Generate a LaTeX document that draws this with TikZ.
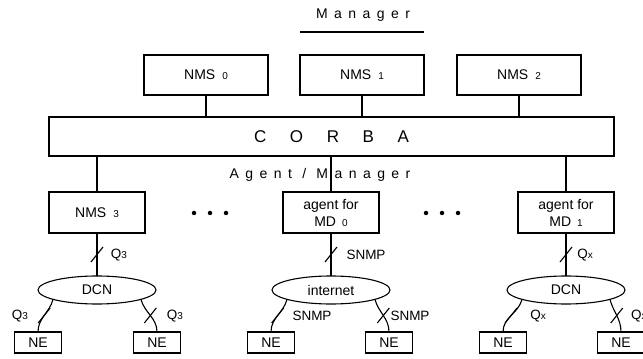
\documentclass[tikz,border=0pt]{standalone}
\usepackage{fontspec}
\setmainfont{Liberation Sans}
\usetikzlibrary{shapes.geometric,calc}

% small digit / letter set after a name (NMS 0, Q3, Qx)
\newcommand\lowidx[1]{{\fontsize{10}{10}\selectfont #1}}

\begin{document}
\begin{tikzpicture}[x=1pt,y=1pt,
  every node/.style={inner sep=0pt, outer sep=0pt, font=\fontsize{14}{17}\selectfont},
  line/.style={line width=1.1pt},
  box/.style={draw, line width=1.1pt, rectangle, align=center},
  topbox/.style={box, minimum width=124pt, minimum height=40pt},
  lowbox/.style={box, minimum width=96pt, minimum height=41pt},
  nebox/.style={box, minimum width=47pt, minimum height=21pt},
  cloud/.style={draw, line width=1.1pt, ellipse, minimum width=118pt, minimum height=28pt},
  lbl/.style={font=\fontsize{13.5}{13.5}\selectfont},
  spaced/.style={font=\fontsize{14}{14}\selectfont\addfontfeature{LetterSpace=46}},
  dot/.style={circle, fill, minimum size=4.5pt},
]
\useasboundingbox (0,0) rectangle (643,359);

% ---- manager layer
\node[spaced] (mgr) at (363,344) {Manager};
\coordinate (ulL) at (300,327);
\coordinate (ulR) at (424,327);
\draw[line] (ulL) -- (ulR);

\node[topbox] (nms0) at (206,284) {NMS\hspace{7pt}\lowidx{0}};
\node[topbox] (nms1) at (362,284) {NMS\hspace{7pt}\lowidx{1}};
\node[topbox] (nms2) at (519,284) {NMS\hspace{7pt}\lowidx{2}};

% ---- CORBA bus
\node[box, minimum width=565pt, minimum height=39pt,
      font=\fontsize{17}{17}\selectfont\addfontfeature{LetterSpace=139}]
      (corba) at (331.5,222.5) {CORBA};

\foreach \n in {nms0,nms1,nms2}
  \draw[line] (\n.south) -- (\n.south |- corba.north);

\node[spaced] (am) at (320,184) {Agent / Manager};

% ---- agent layer
\node[lowbox] (nms3) at (97,146.5) {NMS\hspace{7pt}\lowidx{3}};
\node[lowbox] (md0) at (331,146.5) {agent for\\MD\hspace{6pt}\lowidx{0}};
\node[lowbox] (md1) at (566,146.5) {agent for\\MD\hspace{6pt}\lowidx{1}};

\foreach \n in {nms3,md0,md1}
  \draw[line] (\n.north |- corba.south) -- (\n.north);

\foreach \x [count=\i] in {194,210,226} \node[dot] (dl\i) at (\x,146) {};
\foreach \x [count=\i] in {426,442,458} \node[dot] (dr\i) at (\x,146) {};

% ---- networks
\node[cloud] (dcn0) at (97,69) {DCN};
\node[cloud] (inet) at (331,69) {internet};
\node[cloud] (dcn1) at (566,69) {DCN};

\node[nebox] (ne1) at (38,16.5) {NE};
\node[nebox] (ne2) at (157,16.5) {NE};
\node[nebox] (ne3) at (271,16.5) {NE};
\node[nebox] (ne4) at (389,16.5) {NE};
\node[nebox] (ne5) at (503,16.5) {NE};
\node[nebox] (ne6) at (621,16.5) {NE};

% manager/agent to network, with interface tick
\draw[line] (nms3) -- coordinate[midway] (t1) (dcn0);
\draw[line] (md0) -- coordinate[midway] (t2) (inet);
\draw[line] (md1) -- coordinate[midway] (t3) (dcn1);

% network to network elements
\draw[line] (dcn0.192) to[out=-105,in=90] coordinate[pos=0.5] (t4) (ne1.north);
\draw[line] (dcn0.348) to[out=-75,in=90] coordinate[pos=0.5] (t5) (ne2.north);
\draw[line] (inet.192) to[out=-105,in=90] coordinate[pos=0.5] (t6) (ne3.north);
\draw[line] (inet.348) to[out=-75,in=90] coordinate[pos=0.5] (t7) (ne4.north);
\draw[line] (dcn1.192) to[out=-105,in=90] coordinate[pos=0.5] (t8) (ne5.north);
\draw[line] (dcn1.348) to[out=-75,in=90] coordinate[pos=0.5] (t9) (ne6.north);

\foreach \t in {t1,t2,t3,t4,t5,t6,t7,t8,t9}
  \draw[line] ($(\t)+(-6,-7.5)$) -- ($(\t)+(6,7.5)$);

% interface labels
\node[lbl] (q1) at (119,104) {Q\lowidx{3}};
\node[lbl] (q2) at (366,104) {SNMP};
\node[lbl] (q3) at (585,104) {Q\lowidx{x}};
\node[lbl] (q4) at (20,43) {Q\lowidx{3}};
\node[lbl] (q5) at (175,43) {Q\lowidx{3}};
\node[lbl] (q6) at (312,43) {SNMP};
\node[lbl] (q7) at (410,43) {SNMP};
\node[lbl] (q8) at (538,43) {Q\lowidx{x}};
\node[lbl, anchor=west] (q9) at (631,43) {Q\lowidx{x}};
\end{tikzpicture}
\end{document}
